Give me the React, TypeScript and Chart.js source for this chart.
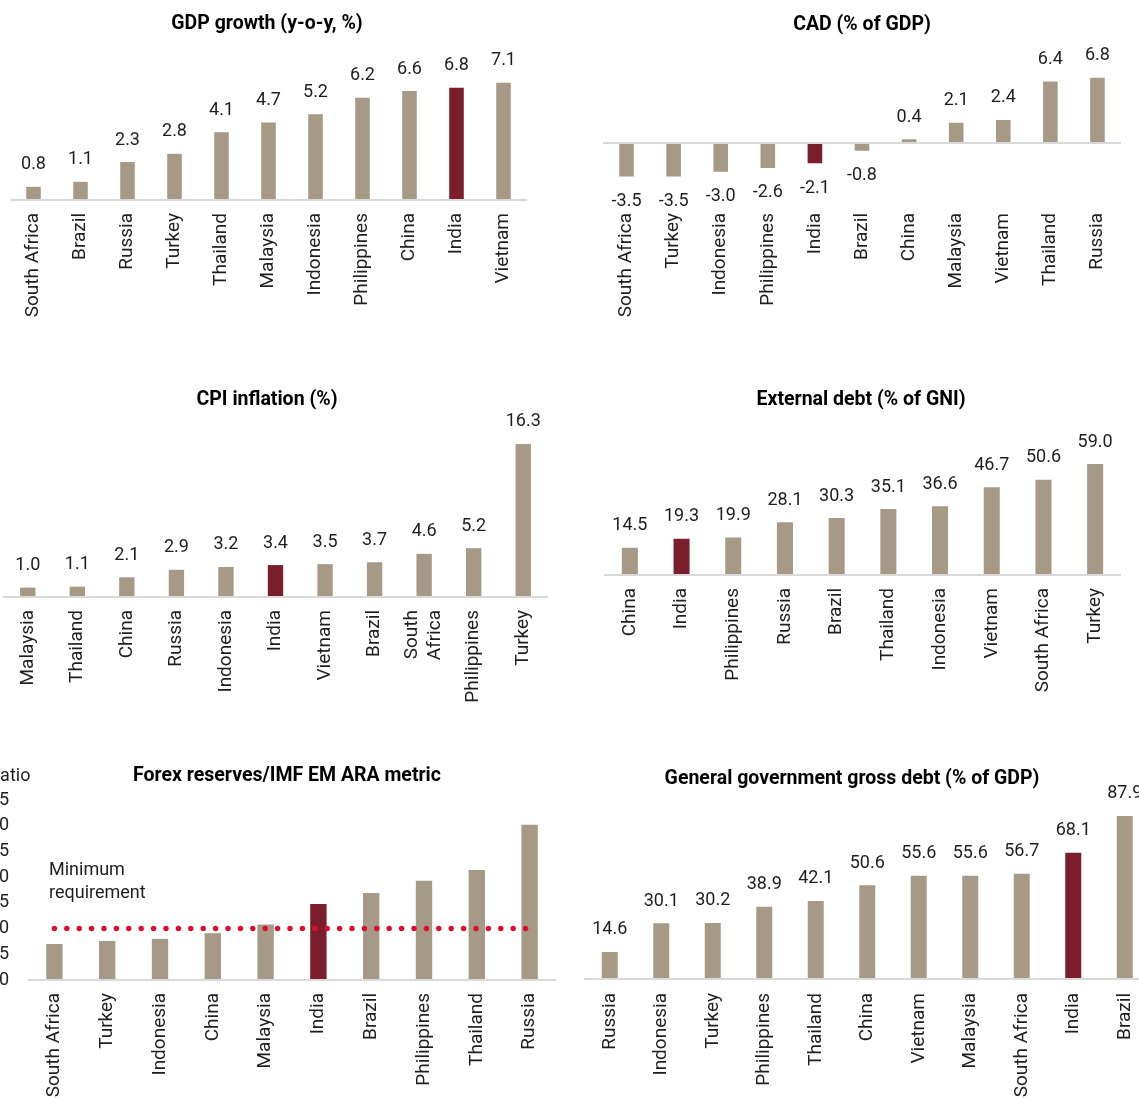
import React, { useEffect, useRef } from "react";
import { Chart, registerables } from "chart.js";

Chart.register(...registerables);

const FONT = "Roboto, 'Liberation Sans', Arial, sans-serif";
const BAR_COLOR = "#a69985";
const INDIA_COLOR = "#7b1e2b";
const AXIS_COLOR = "#d9d9d9";
const TEXT_COLOR = "#1e1e1e";
const THRESHOLD_COLOR = "#e20a2c";
const LABEL_SIZE = 19;

// GDP growth (y-o-y, %)
const gdpCountries = ["South Africa", "Brazil", "Russia", "Turkey", "Thailand", "Malaysia", "Indonesia", "Philippines", "China", "India", "Vietnam"];
const gdpValues = [0.8, 1.1, 2.3, 2.8, 4.1, 4.7, 5.2, 6.2, 6.6, 6.8, 7.1];

// CAD (% of GDP)
const cadCountries = ["South Africa", "Turkey", "Indonesia", "Philippines", "India", "Brazil", "China", "Malaysia", "Vietnam", "Thailand", "Russia"];
const cadValues = [-3.5, -3.5, -3.0, -2.6, -2.1, -0.8, 0.4, 2.1, 2.4, 6.4, 6.8];

// CPI inflation (%)
const cpiCountries: (string | string[])[] = ["Malaysia", "Thailand", "China", "Russia", "Indonesia", "India", "Vietnam", "Brazil", ["South", "Africa"], "Philippines", "Turkey"];
const cpiValues = [1.0, 1.1, 2.1, 2.9, 3.2, 3.4, 3.5, 3.7, 4.6, 5.2, 16.3];

// External debt (% of GNI)
const extDebtCountries = ["China", "India", "Philippines", "Russia", "Brazil", "Thailand", "Indonesia", "Vietnam", "South Africa", "Turkey"];
const extDebtValues = [14.5, 19.3, 19.9, 28.1, 30.3, 35.1, 36.6, 46.7, 50.6, 59.0];

// Forex reserves / IMF EM ARA metric (ratio)
const forexCountries = ["South Africa", "Turkey", "Indonesia", "China", "Malaysia", "India", "Brazil", "Philippines", "Thailand", "Russia"];
const forexValues = [0.7, 0.76, 0.8, 0.91, 1.08, 1.48, 1.69, 1.93, 2.14, 3.02];
const forexMinimum = 1.0;
const forexTicks = [0, 0.5, 1.0, 1.5, 2.0, 2.5, 3.0, 3.5];

// General government gross debt (% of GDP)
const govDebtCountries = ["Russia", "Indonesia", "Turkey", "Philippines", "Thailand", "China", "Vietnam", "Malaysia", "South Africa", "India", "Brazil"];
const govDebtValues = [14.6, 30.1, 30.2, 38.9, 42.1, 50.6, 55.6, 55.6, 56.7, 68.1, 87.9];

type PanelSpec = {
  title: string;
  labels: (string | string[])[];
  values: number[];
  showValues: boolean;
  yMin: number;
  yMax: number;
  // canvas box on the page
  left: number;
  top: number;
  width: number;
  height: number;
  // plot area margins inside the canvas
  padLeft: number;
  padRight: number;
  padTop: number;
  xAxisHeight: number;
  labelPad: number;
  // title centre on the page
  titleX: number;
  titleY: number;
  ratioAxis?: boolean;
};

const panels: PanelSpec[] = [
  {
    title: "GDP growth (y-o-y, %)", labels: gdpCountries, values: gdpValues, showValues: true,
    yMin: 0, yMax: 8,
    left: 0, top: 0, width: 540, height: 340,
    padLeft: 10, padRight: 13, padTop: 68, xAxisHeight: 140, labelPad: 13,
    titleX: 267, titleY: 24,
  },
  {
    title: "CAD (% of GDP)", labels: cadCountries, values: cadValues, showValues: true,
    yMin: -6, yMax: 8,
    left: 580, top: 0, width: 560, height: 340,
    padLeft: 23, padRight: 19, padTop: 66.2, xAxisHeight: 139.4, labelPad: 12.4,
    titleX: 862, titleY: 25,
  },
  {
    title: "CPI inflation (%)", labels: cpiCountries, values: cpiValues, showValues: true,
    yMin: 0, yMax: 18,
    left: 0, top: 380, width: 560, height: 340,
    padLeft: 3, padRight: 12, padTop: 48, xAxisHeight: 123, labelPad: 13,
    titleX: 267, titleY: 400,
  },
  {
    title: "External debt (% of GNI)", labels: extDebtCountries, values: extDebtValues, showValues: true,
    yMin: 0, yMax: 70,
    left: 580, top: 380, width: 560, height: 340,
    padLeft: 24, padRight: 19, padTop: 63.4, xAxisHeight: 145, labelPad: 13,
    titleX: 861, titleY: 400,
  },
  {
    title: "Forex reserves/IMF EM ARA metric", labels: forexCountries, values: forexValues, showValues: false,
    yMin: 0, yMax: 3.5,
    left: -40, top: 760, width: 610, height: 338,
    padLeft: 0, padRight: 14, padTop: 40, xAxisHeight: 118, labelPad: 13,
    titleX: 287, titleY: 776,
    ratioAxis: true,
  },
  {
    title: "General government gross debt (% of GDP)", labels: govDebtCountries, values: govDebtValues, showValues: true,
    yMin: 0, yMax: 100,
    left: 580, top: 760, width: 600, height: 338,
    padLeft: 4, padRight: 29.5, padTop: 33.5, xAxisHeight: 119, labelPad: 14,
    titleX: 852, titleY: 779,
  },
];

function labelText(l: string | string[]) {
  return Array.isArray(l) ? l.join(" ") : l;
}

function buildChart(canvas: HTMLCanvasElement, spec: PanelSpec) {
  const colors = spec.labels.map((l) => (labelText(l) === "India" ? INDIA_COLOR : BAR_COLOR));

  const titlePlugin = {
    id: "panelTitle",
    afterDraw(chart: any) {
      const ctx = chart.ctx;
      ctx.save();
      ctx.font = `bold 19.5px ${FONT}`;
      ctx.fillStyle = "#000";
      ctx.textAlign = "center";
      ctx.textBaseline = "middle";
      ctx.fillText(spec.title, spec.titleX - spec.left, spec.titleY - spec.top);
      ctx.restore();
    },
  };

  // Centre two-line category labels on their tick rather than on the first line.
  const centreMultiline = {
    id: "centreMultiline",
    beforeDraw(chart: any) {
      const sx = chart.scales.x;
      const items = sx.getLabelItems(chart.chartArea);
      const lh = LABEL_SIZE * 1.2;
      items.forEach((it: any) => {
        if (Array.isArray(it.label) && it.label.length > 1 && !it._centred) {
          it.options.translation[0] -= ((it.label.length - 1) * lh) / 2;
          it._centred = true;
        }
      });
    },
  };

  const valuePlugin = {
    id: "valueLabels",
    afterDatasetsDraw(chart: any) {
      if (!spec.showValues) return;
      const ctx = chart.ctx;
      const meta = chart.getDatasetMeta(0);
      ctx.save();
      ctx.font = `18px ${FONT}`;
      ctx.fillStyle = TEXT_COLOR;
      ctx.textAlign = "center";
      ctx.textBaseline = "middle";
      meta.data.forEach((el: any, i: number) => {
        const v = spec.values[i];
        const y = v >= 0 ? el.y - 22 : el.y + 25;
        ctx.fillText(v.toFixed(1), el.x, y);
      });
      ctx.restore();
    },
  };

  const ratioPlugin = {
    id: "ratioNotes",
    afterDraw(chart: any) {
      if (!spec.ratioAxis) return;
      const ctx = chart.ctx;
      const area = chart.chartArea;
      const yLine = chart.scales.y.getPixelForValue(forexMinimum);
      ctx.save();
      ctx.font = `18px ${FONT}`;
      ctx.fillStyle = TEXT_COLOR;
      ctx.textAlign = "left";
      ctx.textBaseline = "middle";
      ctx.fillText("Ratio", area.left - 39, area.top - 24);
      ctx.fillText("Minimum", area.left + 21, yLine - 58);
      ctx.fillText("requirement", area.left + 21, yLine - 35);
      ctx.restore();
    },
  };

  const datasets: any[] = [
    {
      type: "bar",
      data: spec.values,
      backgroundColor: colors,
      barPercentage: 0.31,
      categoryPercentage: 1,
      order: 1,
    },
  ];
  if (spec.ratioAxis) {
    datasets.push({
      type: "line",
      data: spec.labels.map(() => forexMinimum),
      borderColor: THRESHOLD_COLOR,
      borderWidth: 5.4,
      borderDash: [0, 12.4],
      borderCapStyle: "round",
      pointRadius: 0,
      fill: false,
      order: 0,
    });
  }

  return new Chart(canvas, {
    type: "bar",
    data: { labels: spec.labels as any, datasets },
    options: {
      animation: false,
      responsive: false,
      devicePixelRatio: 1,
      layout: {
        padding: { left: spec.padLeft, right: spec.padRight, top: spec.padTop, bottom: 0 },
      },
      plugins: {
        legend: { display: false },
        tooltip: { enabled: false },
        title: { display: false },
      },
      scales: {
        x: {
          grid: { display: false, drawTicks: false },
          border: { display: false },
          ticks: {
            autoSkip: false,
            maxRotation: 90,
            minRotation: 90,
            padding: spec.labelPad,
            color: TEXT_COLOR,
            font: { family: FONT, size: LABEL_SIZE },
          },
          afterFit: (s: any) => {
            s.height = spec.xAxisHeight;
          },
        },
        y: {
          min: spec.yMin,
          max: spec.yMax,
          border: { display: false },
          grid: {
            drawTicks: false,
            lineWidth: 2,
            color: (c: any) => (c.tick && c.tick.value === 0 ? AXIS_COLOR : "rgba(0,0,0,0)"),
          },
          ticks: spec.ratioAxis
            ? {
                display: true,
                stepSize: 0.5,
                padding: 19,
                color: TEXT_COLOR,
                font: { family: FONT, size: 18 },
                callback: (v: any) => (forexTicks.includes(Number(v)) ? Number(v).toFixed(1) : ""),
              }
            : { display: false },
          afterFit: (s: any) => {
            s.width = spec.ratioAxis ? 68 : 0;
          },
        },
      },
    },
    plugins: [centreMultiline, valuePlugin, ratioPlugin, titlePlugin],
  } as any);
}

function Panel({ spec }: { spec: PanelSpec }) {
  const ref = useRef<HTMLCanvasElement>(null);
  useEffect(() => {
    const chart = buildChart(ref.current as HTMLCanvasElement, spec);
    return () => chart.destroy();
  }, [spec]);
  return (
    <div style={{ position: "absolute", left: spec.left, top: spec.top, width: spec.width, height: spec.height }}>
      <canvas
        ref={ref}
        width={spec.width}
        height={spec.height}
        style={{ display: "block", width: spec.width, height: spec.height }}
      />
    </div>
  );
}

export default function App() {
  return (
    <div
      style={{
        position: "fixed",
        left: 0,
        top: 0,
        width: 1139,
        height: 1098,
        overflow: "hidden",
        background: "#ffffff",
      }}
    >
      {panels.map((p) => (
        <Panel key={p.title} spec={p} />
      ))}
    </div>
  );
}
